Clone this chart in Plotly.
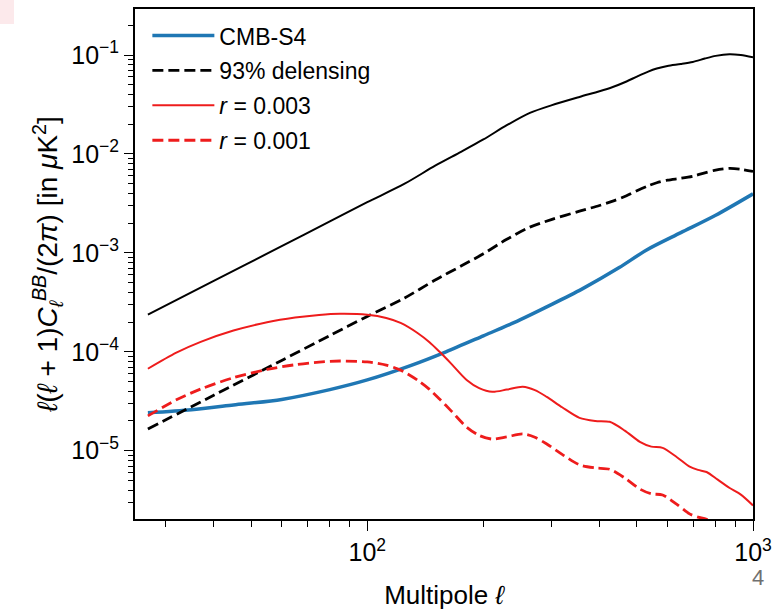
import numpy as np
import plotly.graph_objects as go

# ---------------- data ----------------
ell_lens = [27, 40, 60, 80, 100, 125, 150, 175, 200, 230, 264, 300, 355, 400, 433,
            470, 500, 535, 563, 600, 650, 698, 750, 800, 869, 930, 1000]
lensing_bb = [2.37e-4, 5.2e-4, 1.17e-3, 2.08e-3, 3.25e-3, 5.0e-3, 7.6e-3, 1.05e-2,
              1.40e-2, 1.95e-2, 2.6e-2, 3.1e-2, 3.77e-2, 4.3e-2, 4.75e-2, 5.4e-2,
              6.05e-2, 6.8e-2, 7.3e-2, 7.75e-2, 8.1e-2, 8.5e-2, 9.2e-2, 9.8e-2,
              1.02e-1, 1.0e-1, 9.5e-2]
delensed_bb = [1.66e-5, 3.64e-5, 8.19e-5, 1.46e-4, 2.28e-4, 3.5e-4, 5.32e-4, 7.35e-4,
               9.8e-4, 1.37e-3, 1.82e-3, 2.17e-3, 2.64e-3, 3.01e-3, 3.33e-3, 3.78e-3,
               4.24e-3, 4.76e-3, 5.11e-3, 5.43e-3, 5.67e-3, 5.95e-3, 6.44e-3, 6.86e-3,
               7.14e-3, 7.0e-3, 6.65e-3]

ell_noise = [27, 35, 45, 60, 80, 100, 130, 160, 200, 240, 300, 360, 450, 530, 650, 800, 1000]
cmbs4_noise = [2.42e-5, 2.6e-5, 2.9e-5, 3.3e-5, 4.15e-5, 5.2e-5, 7.3e-5, 1.0e-4, 1.45e-4,
               1.97e-4, 3.0e-4, 4.3e-4, 7.1e-4, 1.07e-3, 1.6e-3, 2.4e-3, 3.95e-3]

ell_r = [27, 32, 37, 45, 55, 65, 75, 85, 100, 112, 122, 135, 145, 154, 165, 181, 195,
         211, 230, 253, 272, 292, 320, 355, 390, 425, 465, 509, 545, 583, 635, 685,
         720, 758, 810, 870, 930, 1000]
r003 = [6.74e-5, 9.8e-5, 1.26e-4, 1.64e-4, 1.99e-4, 2.22e-4, 2.36e-4, 2.42e-4, 2.37e-4,
        2.2e-4, 1.96e-4, 1.55e-4, 1.25e-4, 1.0e-4, 7.6e-5, 5.2e-5, 4.3e-5, 3.94e-5,
        4.15e-5, 4.43e-5, 4.1e-5, 3.5e-5, 2.75e-5, 2.15e-5, 2.0e-5, 1.96e-5, 1.6e-5,
        1.23e-5, 1.1e-5, 1.07e-5, 8.6e-6, 6.9e-6, 6.4e-6, 6.1e-6, 5.1e-6, 4.2e-6,
        3.6e-6, 2.8e-6]
r001 = [2.25e-5, 3.27e-5, 4.2e-5, 5.47e-5, 6.63e-5, 7.4e-5, 7.87e-5, 8.07e-5, 7.9e-5,
        7.33e-5, 6.53e-5, 5.17e-5, 4.17e-5, 3.33e-5, 2.53e-5, 1.73e-5, 1.43e-5, 1.31e-5,
        1.38e-5, 1.48e-5, 1.37e-5, 1.17e-5, 9.2e-6, 7.2e-6, 6.7e-6, 6.5e-6, 5.3e-6,
        4.1e-6, 3.67e-6, 3.57e-6, 2.87e-6, 2.3e-6, 2.13e-6, 2.03e-6, 1.7e-6, 1.4e-6,
        1.2e-6, 9.3e-7]

y_major = [1e-5, 1e-4, 1e-3, 1e-2, 1e-1]
y_major_text = ["10<sup>\u22125</sup>", "10<sup>\u22124</sup>", "10<sup>\u22123</sup>",
                "10<sup>\u22122</sup>", "10<sup>\u22121</sup>"]
x_major = [100, 1000]
x_major_text = ["10<sup>2</sup>", "10<sup>3</sup>"]

# ---------------- figure ----------------
FONT = "Liberation Sans, Arial, Helvetica, sans-serif"
RED = "#ee1c1c"
fig = go.Figure()

fig.add_trace(go.Scatter(x=ell_noise, y=cmbs4_noise, mode="lines", name="CMB-S4",
                         line=dict(color="#1f77b4", width=3.5, shape="spline", smoothing=0.8),
                         legendgroup="a"))
fig.add_trace(go.Scatter(x=ell_lens, y=delensed_bb, mode="lines", name="93% delensing",
                         line=dict(color="black", width=2.8, dash="11px,5px",
                                   shape="spline", smoothing=0.8),
                         legendgroup="b"))
fig.add_trace(go.Scatter(x=ell_r, y=r003, mode="lines", name="<i>r</i> = 0.003",
                         line=dict(color=RED, width=2, shape="spline", smoothing=0.8),
                         legendgroup="c"))
fig.add_trace(go.Scatter(x=ell_r, y=r001, mode="lines", name="<i>r</i> = 0.001",
                         line=dict(color=RED, width=2.8, dash="11px,5px",
                                   shape="spline", smoothing=0.8),
                         legendgroup="d"))
fig.add_trace(go.Scatter(x=ell_lens, y=lensing_bb, mode="lines", showlegend=False,
                         line=dict(color="black", width=2, shape="spline", smoothing=0.8)))

x_minor = [30, 40, 50, 60, 70, 80, 90, 200, 300, 400, 500, 600, 700, 800, 900]
y_minor = [m * 10.0 ** e for e in range(-6, 0) for m in range(2, 10)]

fig.update_xaxes(type="log", range=[np.log10(25), 3], tickvals=x_major, ticktext=x_major_text,
                 ticks="outside", ticklen=10, tickwidth=1.3, tickcolor="black",
                 minor=dict(tickvals=x_minor, ticks="outside", ticklen=6, tickwidth=1,
                            tickcolor="black"),
                 showline=True, linecolor="black", linewidth=2, mirror=True,
                 showgrid=False, zeroline=False, automargin=False,
                 tickfont=dict(size=25, color="black", family=FONT),
                 title=dict(text="Multipole <i>\u2113</i>", font=dict(size=26, color="black",
                                                                    family=FONT), standoff=26))
fig.update_yaxes(type="log", range=[-5.69, -0.535], tickvals=y_major, ticktext=y_major_text,
                 ticks="outside", ticklen=9, tickwidth=1.3, tickcolor="black",
                 minor=dict(tickvals=y_minor, ticks="outside", ticklen=5, tickwidth=1,
                            tickcolor="black"),
                 showline=True, linecolor="black", linewidth=2, mirror=True,
                 showgrid=False, zeroline=False, automargin=False,
                 tickfont=dict(size=25, color="black", family=FONT),
                 title=dict(text="<i>\u2113</i>(<i>\u2113</i> + 1)<i>C</i><sub><i>\u2113</i></sub>"
                                 "<sup><i>BB</i></sup>/(2<i>\u03c0</i>) [in <i>\u03bc</i>K<sup>2</sup>]",
                            font=dict(size=28, color="black", family=FONT), standoff=5))

fig.update_layout(
    width=777, height=610,
    margin=dict(l=135, r=24, t=9, b=91),
    paper_bgcolor="white", plot_bgcolor="white",
    font=dict(family=FONT, color="black"),
    legend=dict(x=0.02, y=0.99, xanchor="left", yanchor="top",
                bgcolor="rgba(0,0,0,0)", font=dict(size=23, family=FONT, color="black"),
                tracegroupgap=2, itemwidth=62),
    shapes=[dict(type="rect", xref="paper", yref="paper",
                 x0=-135 / 618, x1=-121 / 618, y0=495 / 510, y1=519 / 510,
                 fillcolor="#fce9eb", line=dict(width=0), layer="below")],
    annotations=[dict(text="4", xref="paper", yref="paper", x=1.008, y=-0.114,
                      xanchor="center", yanchor="middle", showarrow=False,
                      font=dict(size=22, color="#707070", family=FONT))],
)

fig.write_html("out.html")
